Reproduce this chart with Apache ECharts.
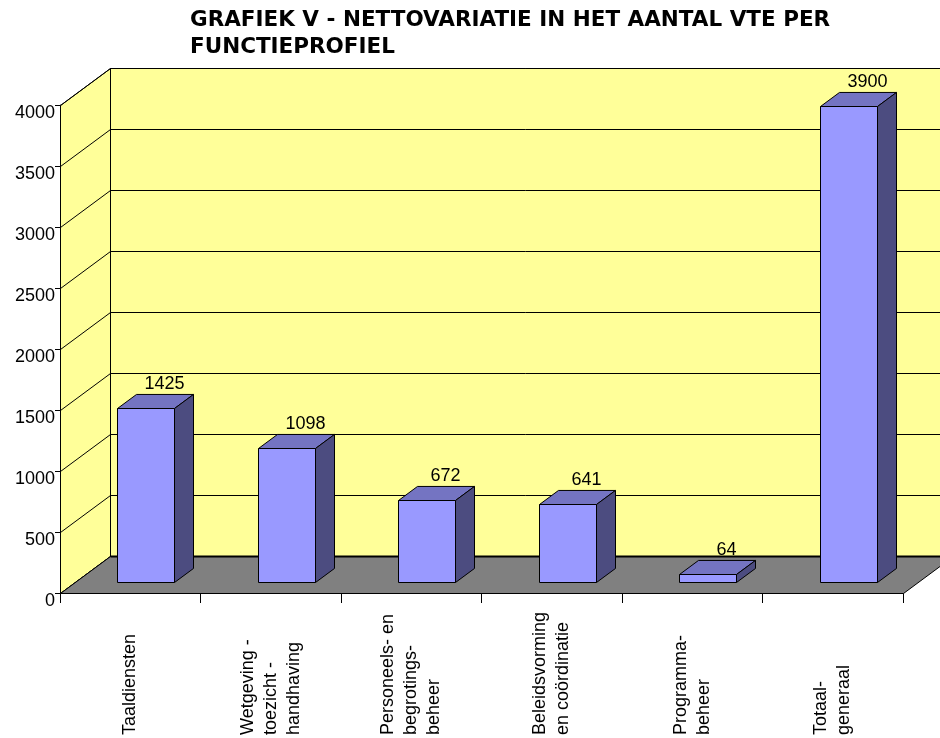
<!DOCTYPE html>
<html>
<head>
<meta charset="utf-8">
<title>Grafiek V</title>
<script src="https://cdn.jsdelivr.net/npm/echarts@6/dist/echarts.min.js"></script>
<style>
html, body { margin: 0; padding: 0; background: #fff; }
#chart { width: 940px; height: 738px; }
</style>
</head>
<body>
<div id="chart"></div>
<script>
var categories = [
  'Taaldiensten',
  'Wetgeving -\ntoezicht -\nhandhaving',
  'Personeels- en\nbegrotings-\nbeheer',
  'Beleidsvorming\nen coördinatie',
  'Programma-\nbeheer',
  'Totaal-\ngeneraal'
];
var values = [1425, 1098, 672, 641, 64, 3900];
var yTicks = [0, 500, 1000, 1500, 2000, 2500, 3000, 3500, 4000];

// fake 3d: depth of the floor in px, and where the bars sit inside it
var DX = 50, DY = -37;
var BAR_D0 = 0.3, BAR_D1 = 0.68, BAR_W = 0.4;

function px(v) { return Math.round(v) + 0.5; }

function wallsRender(params, api) {
  var bw = api.size([1, 0])[0];
  var left = px(api.coord([0, 0])[0] - bw / 2);
  var right = px(api.coord([categories.length - 1, 0])[0] + bw / 2);
  var y0 = px(api.coord([0, 0])[1]);
  var yTop = px(api.coord([0, yTicks[yTicks.length - 1]])[1]);
  var kids = [];
  // back wall
  kids.push({
    type: 'polygon',
    shape: { points: [[left + DX, y0 + DY], [right + DX, y0 + DY], [right + DX, yTop + DY], [left + DX, yTop + DY]] },
    style: { fill: '#FFFF99', stroke: '#000', lineWidth: 1 }
  });
  // left wall
  kids.push({
    type: 'polygon',
    shape: { points: [[left, y0], [left + DX, y0 + DY], [left + DX, yTop + DY], [left, yTop]] },
    style: { fill: '#FFFF99', stroke: '#000', lineWidth: 1 }
  });
  // gridlines over both walls
  yTicks.forEach(function (t) {
    var y = px(api.coord([0, t])[1]);
    kids.push({
      type: 'polyline',
      shape: { points: [[left, y], [left + DX, y + DY], [right + DX, y + DY]] },
      style: { fill: null, stroke: '#000', lineWidth: 1 }
    });
  });
  // floor
  kids.push({
    type: 'polygon',
    shape: { points: [[left, y0], [right, y0], [right + DX, y0 + DY], [left + DX, y0 + DY]] },
    style: { fill: '#808080', stroke: '#000', lineWidth: 1 }
  });
  kids.push({
    type: 'line',
    shape: { x1: left + DX, y1: y0 + DY, x2: right + DX, y2: y0 + DY },
    style: { stroke: '#000', lineWidth: 2 }
  });
  return { type: 'group', children: kids };
}

function barRender(params, api) {
  var i = api.value(0), v = api.value(1);
  var bw = api.size([1, 0])[0];
  var base = api.coord([i, 0]);
  var top = api.coord([i, v]);
  var w = bw * BAR_W;
  var dx = DX * (BAR_D1 - BAR_D0), dy = DY * (BAR_D1 - BAR_D0);
  var x0 = px(base[0] - w / 2 + DX * BAR_D0), x1 = px(x0 + w);
  var yb = px(base[1] + DY * BAR_D0), yt = px(top[1] + DY * BAR_D0);
  var line = { stroke: '#000', lineWidth: 1, lineJoin: 'miter' };
  return {
    type: 'group',
    children: [
      {
        type: 'polygon',
        shape: { points: [[x0, yt], [x1, yt], [x1 + dx, yt + dy], [x0 + dx, yt + dy]] },
        style: Object.assign({ fill: '#7474C2' }, line)
      },
      {
        type: 'polygon',
        shape: { points: [[x1, yb], [x1 + dx, yb + dy], [x1 + dx, yt + dy], [x1, yt]] },
        style: Object.assign({ fill: '#4C4C80' }, line)
      },
      {
        type: 'polygon',
        shape: { points: [[x0, yb], [x1, yb], [x1, yt], [x0, yt]] },
        style: Object.assign({ fill: '#9999FF' }, line)
      },
      {
        type: 'text',
        style: {
          text: String(v),
          x: x0 + dx + w / 2,
          y: yt + dy - 1,
          align: 'center',
          verticalAlign: 'bottom',
          fill: '#000',
          font: '18px "Liberation Sans", Arial, sans-serif'
        }
      }
    ]
  };
}

var chart = echarts.init(document.getElementById('chart'));
chart.setOption({
  animation: false,
  backgroundColor: '#fff',
  title: {
    text: 'GRAFIEK V - NETTOVARIATIE IN HET AANTAL VTE PER\nFUNCTIEPROFIEL',
    left: 190,
    top: 7,
    padding: 0,
    textStyle: {
      fontFamily: 'DejaVu Sans',
      fontWeight: 'bold',
      fontSize: 21.5,
      lineHeight: 27,
      color: '#000'
    }
  },
  grid: { left: 60, right: 37, top: 105, bottom: 145, containLabel: false, outerBoundsMode: 'none' },
  xAxis: {
    type: 'category',
    data: categories,
    axisLine: { lineStyle: { color: '#000' } },
    axisTick: { show: true, interval: 0, length: 10, lineStyle: { color: '#000' } },
    axisLabel: {
      interval: 0,
      rotate: 90,
      align: 'left',
      margin: 142,
      fontSize: 18,
      lineHeight: 23,
      color: '#000',
      fontFamily: '"Liberation Sans", Arial, sans-serif'
    },
    splitLine: { show: false }
  },
  yAxis: {
    type: 'value',
    min: 0,
    max: 4000,
    interval: 500,
    axisLine: { show: true, lineStyle: { color: '#000' } },
    axisTick: { show: true, length: 5, lineStyle: { color: '#000' } },
    axisLabel: {
      margin: 5,
      fontSize: 18,
      color: '#000',
      verticalAlign: 'top',
      lineHeight: 16,
      fontFamily: '"Liberation Sans", Arial, sans-serif',
      formatter: function (v) { return String(v); }
    },
    splitLine: { show: false }
  },
  series: [
    {
      type: 'custom',
      name: 'walls',
      silent: true,
      clip: false,
      z: 1,
      renderItem: wallsRender,
      data: [[0, 0]],
      encode: { x: 0, y: 1 }
    },
    {
      type: 'custom',
      name: 'VTE',
      clip: false,
      z: 3,
      renderItem: barRender,
      data: values.map(function (v, i) { return [i, v]; }),
      encode: { x: 0, y: 1 }
    }
  ]
});
</script>
</body>
</html>
